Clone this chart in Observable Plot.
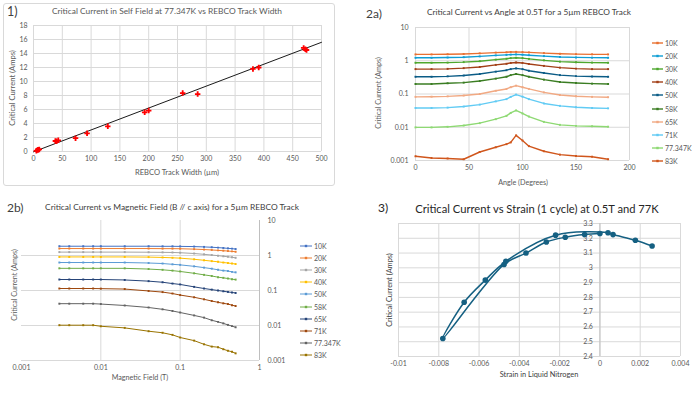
<!DOCTYPE html>
<html><head><meta charset="utf-8">
<script src="https://cdn.jsdelivr.net/npm/d3@7"></script>
<script src="https://cdn.jsdelivr.net/npm/@observablehq/plot@0.6"></script>
<style>
body{margin:0;background:#fff;}
#root{position:relative;width:700px;height:394px;overflow:hidden;background:#fff;font-family:Lato,"Open Sans",sans-serif;}
#root svg{position:absolute;overflow:visible;}
.t{position:absolute;white-space:nowrap;line-height:1;}
</style></head>
<body><div id="root"></div>
<script>
// ---------- Panel 1 data ----------
const p1Width = [5,7,8,10,38,40,43,73,93,129,193,200,259,285,381,391,469,472,474];
const p1Current = [0.1,0.2,0.25,0.3,1.5,1.45,1.6,1.9,2.6,3.6,5.6,5.85,8.35,8.2,11.8,12.0,14.8,14.6,14.5];
const p1TrendX = [0,500];
const p1TrendY = [-0.05,15.6];
const p1XTicks = [0,50,100,150,200,250,300,350,400,450,500];
const p1YTicks = [0,2,4,6,8,10,12,14,16,18];

// ---------- Panel 2a data ----------
const p2aTemps = ["10K","20K","30K","40K","50K","58K","65K","71K","77.347K","83K"];
const p2aColors = ["#E97132","#0F9ED5","#4EA72E","#A23F17","#0B5C86","#3B7D23","#F1A983","#61CBF4","#8ED973","#D0561C"];
const p2aAngles = [0,15,30,45,60,75,85,89,94,100,106,120,135,150,165,180];
const a10K = [1.55,1.55,1.57,1.6,1.67,1.76,1.8,1.84,1.85,1.82,1.78,1.7,1.62,1.58,1.56,1.55];
const a20K = [1.23,1.23,1.25,1.28,1.35,1.45,1.5,1.53,1.55,1.52,1.47,1.38,1.3,1.26,1.24,1.23];
const a30K = [0.87,0.87,0.88,0.91,0.97,1.08,1.15,1.2,1.23,1.2,1.14,1.03,0.94,0.9,0.88,0.87];
const a40K = [0.56,0.56,0.57,0.6,0.65,0.75,0.81,0.86,0.89,0.86,0.8,0.7,0.62,0.58,0.56,0.56];
const a50K = [0.33,0.33,0.34,0.36,0.4,0.47,0.52,0.56,0.59,0.56,0.5,0.43,0.37,0.345,0.335,0.33];
const a58K = [0.2,0.2,0.21,0.22,0.245,0.29,0.33,0.37,0.4,0.37,0.33,0.27,0.23,0.215,0.205,0.2];
const a65K = [0.082,0.083,0.085,0.09,0.1,0.125,0.142,0.16,0.178,0.16,0.142,0.112,0.093,0.086,0.082,0.08];
const a71K = [0.038,0.038,0.039,0.042,0.048,0.06,0.07,0.082,0.096,0.083,0.07,0.052,0.044,0.04,0.038,0.037];
const a77K = [0.0099,0.0099,0.0103,0.0113,0.0133,0.0175,0.022,0.027,0.032,0.026,0.021,0.0145,0.0118,0.011,0.0107,0.0104];
const a83K = [0.00134,0.00119,0.00115,0.00109,0.0018,0.0025,0.0031,0.0035,0.0057,0.004,0.0027,0.0019,0.0015,0.00136,0.0013,0.00109];
const p2aXTicks = [0,50,100,150,200];
const p2aYTicks = [0.001,0.01,0.1,1,10];

// ---------- Panel 2b data ----------
const p2bTemps = ["10K","20K","30K","40K","50K","58K","65K","71K","77.347K","83K"];
const p2bColors = ["#4472C4","#ED7D31","#A5A5A5","#FFC000","#5B9BD5","#70AD47","#264478","#9E480E","#636363","#997300"];
const p2bField = [0.003,0.004,0.006,0.008,0.01,0.02,0.04,0.06,0.08,0.1,0.15,0.2,0.25,0.3,0.35,0.4,0.45,0.5];
const b10K = [1.84,1.84,1.84,1.84,1.84,1.84,1.84,1.83,1.83,1.82,1.8,1.76,1.72,1.68,1.64,1.6,1.57,1.53];
const b20K = [1.58,1.58,1.58,1.58,1.58,1.58,1.58,1.57,1.57,1.56,1.52,1.48,1.44,1.4,1.37,1.34,1.31,1.28];
const b30K = [1.25,1.25,1.25,1.25,1.25,1.25,1.24,1.23,1.22,1.2,1.14,1.08,1.03,0.99,0.95,0.92,0.89,0.86];
const b40K = [0.91,0.91,0.91,0.91,0.91,0.91,0.9,0.88,0.86,0.84,0.78,0.73,0.69,0.66,0.63,0.61,0.59,0.57];
const b50K = [0.63,0.63,0.63,0.63,0.63,0.63,0.61,0.59,0.56,0.54,0.49,0.45,0.42,0.39,0.37,0.36,0.34,0.33];
const b58K = [0.43,0.43,0.43,0.43,0.43,0.43,0.41,0.39,0.37,0.35,0.31,0.28,0.26,0.24,0.23,0.22,0.21,0.205];
const b65K = [0.206,0.206,0.206,0.206,0.206,0.2,0.185,0.172,0.158,0.149,0.127,0.114,0.106,0.1,0.095,0.091,0.088,0.085];
const b71K = [0.114,0.114,0.114,0.114,0.113,0.11,0.097,0.09,0.082,0.074,0.064,0.056,0.05,0.046,0.043,0.041,0.038,0.036];
const b77K = [0.042,0.042,0.042,0.042,0.041,0.0373,0.0327,0.029,0.026,0.0235,0.0194,0.0168,0.0141,0.0127,0.0115,0.0104,0.0096,0.0089];
const b83K = [0.0102,0.0102,0.0102,0.0102,0.0095,0.00855,0.00687,0.0062,0.0054,0.00454,0.0037,0.0029,0.0025,0.0024,0.0021,0.0019,0.00178,0.0016];
const p2bXTicks = [0.001,0.01,0.1,1];
const p2bYTicks = [0.001,0.01,0.1,1,10];

// ---------- Panel 3 data ----------
const p3Strain = [0,-0.00076,-0.00172,-0.00266,-0.00367,-0.00476,-0.0078,-0.00674,-0.00569,-0.00467,-0.0022,0.0004,0.00065,0.00176,0.00259];
const p3Current = [3.232,3.225,3.207,3.175,3.10,3.023,2.522,2.767,2.917,3.044,3.221,3.237,3.225,3.187,3.148];
const p3XTicks = [-0.01,-0.008,-0.006,-0.004,-0.002,0,0.002,0.004];
const p3YTicks = [2.4,2.5,2.6,2.7,2.8,2.9,3,3.1,3.2,3.3];

// ---------- helpers ----------
const root = document.getElementById("root");
const FONT = 'Lato,"Open Sans",sans-serif';
const GRID = "#d9d9d9";
const TICK = "#595959";
function place(svg, left, top){ svg.style.left = left+"px"; svg.style.top = top+"px"; root.appendChild(svg); }
function txt(s, x, y, size, color, o={}){
  const d = document.createElement("div");
  d.className = "t"; d.textContent = s;
  const tx = o.anchor === "start" ? "0" : "-50%";
  d.style.left = x+"px"; d.style.top = y+"px"; d.style.fontSize = size+"px"; d.style.color = color;
  d.style.transform = `translate(${tx},-50%)` + (o.rotate ? " rotate(-90deg)" : "");
  root.appendChild(d);
}
function legend(temps, colors, x0, y0, dy, lineW, opts){
  temps.forEach((t,i)=>{
    const y = y0 + i*dy;
    const s = d3.create("svg").attr("width", lineW).attr("height", 6)
      .style("left", x0+"px").style("top", (y-3)+"px");
    s.append("line").attr("x1",0).attr("x2",lineW).attr("y1",3).attr("y2",3)
      .attr("stroke", colors[i]).attr("stroke-width", opts.sw);
    s.append("rect").attr("x", lineW/2-1.2).attr("y", 1.8).attr("width", 2.4).attr("height", 2.4).attr("fill", colors[i]);
    root.appendChild(s.node());
    txt(t, x0+lineW+2, y, opts.size, TICK, {anchor:"start"});
  });
}
const baseStyle = {fontFamily: FONT, fontSize: "7px", color: TICK, background: "transparent", overflow: "visible"};

// ---------- Panel 1 ----------
{
  const box = document.createElement("div");
  box.style.cssText = "position:absolute;left:3px;top:3px;width:330px;height:181px;border:1px solid #d9d9d9;border-radius:3px;";
  root.appendChild(box);
  const pts = p1Width.map((w,i)=>({w, c:p1Current[i]}));
  const trend = p1TrendX.map((x,i)=>({x, y:p1TrendY[i]}));
  const svg = Plot.plot({
    width:340, height:180, marginLeft:33, marginRight:19, marginTop:25, marginBottom:29,
    style: baseStyle,
    x:{domain:[0,500], axis:null}, y:{domain:[0,18], axis:null},
    marks:[
      Plot.gridX(p1XTicks,{stroke:GRID, strokeOpacity:1}),
      Plot.gridY(p1YTicks,{stroke:GRID, strokeOpacity:1}),
      Plot.axisX(p1XTicks,{tickSize:0, tickPadding:5, label:null, fill:TICK}),
      Plot.axisY(p1YTicks,{tickSize:0, tickPadding:6, label:null, fill:TICK}),
      Plot.line(trend,{x:"x", y:"y", stroke:"#1a1a1a", strokeWidth:1}),
      Plot.dot(pts,{x:"w", y:"c", symbol:"cross", fill:"#ff0000", r:2.3})
    ]
  });
  place(svg, 0, 0);
  txt("Critical Current in Self Field at 77.347K vs REBCO Track Width", 167, 11, 8.4, "#595959");
  txt("1)", 7, 12, 12.5, "#404040", {anchor:"start"});
  txt("REBCO Track Width (\u00b5m)", 177, 173, 7.6, "#595959");
  txt("Critical Current (Amps)", 13, 88, 7.6, "#595959", {rotate:true});
}

// ---------- Panel 2a ----------
{
  const series = [a10K,a20K,a30K,a40K,a50K,a58K,a65K,a71K,a77K,a83K];
  const rows = series.flatMap((arr,k)=>arr.map((v,i)=>({temp:p2aTemps[k], angle:p2aAngles[i], v})));
  const svg = Plot.plot({
    width:300, height:180, marginLeft:75, marginRight:11, marginTop:27, marginBottom:20,
    style: baseStyle,
    x:{domain:[0,200], axis:null}, y:{type:"log", domain:[0.001,10], axis:null},
    color:{domain:p2aTemps, range:p2aColors},
    marks:[
      Plot.gridX(p2aXTicks,{stroke:GRID, strokeOpacity:1}),
      Plot.gridY(p2aYTicks,{stroke:GRID, strokeOpacity:1}),
      Plot.axisX(p2aXTicks,{tickSize:0, tickPadding:5, label:null, fill:TICK}),
      Plot.axisY(p2aYTicks,{tickSize:0, tickPadding:7, label:null, fill:TICK, tickFormat:d=>String(d)}),
      Plot.line(rows,{x:"angle", y:"v", z:"temp", stroke:"temp", strokeWidth:1.4}),
      Plot.dot(rows,{x:"angle", y:"v", fill:"temp", symbol:"square", r:1.1})
    ]
  });
  place(svg, 340, 0);
  txt("Critical Current vs Angle at 0.5T for a 5\u00b5m REBCO Track", 529, 12, 8.3, "#404040");
  txt("2a)", 366, 14, 12, "#404040", {anchor:"start"});
  txt("Angle (Degrees)", 523, 183, 7.2, "#595959");
  txt("Critical Current (Amps)", 379, 93, 7.2, "#595959", {rotate:true});
  legend(p2aTemps, p2aColors, 652, 43, 13.1, 11, {sw:1.4, size:7});
}

// ---------- Panel 2b ----------
{
  const series = [b10K,b20K,b30K,b40K,b50K,b58K,b65K,b71K,b77K,b83K];
  const rows = series.flatMap((arr,k)=>arr.map((v,i)=>({temp:p2bTemps[k], B:p2bField[i], v})));
  const svg = Plot.plot({
    width:300, height:195, marginLeft:21, marginRight:41, marginTop:25, marginBottom:30,
    style: baseStyle,
    x:{type:"log", domain:[0.001,1], axis:null}, y:{type:"log", domain:[0.001,10], axis:null},
    color:{domain:p2bTemps, range:p2bColors},
    marks:[
      Plot.gridX(p2bXTicks.slice(1,3),{stroke:GRID, strokeOpacity:1}),
      Plot.gridY(p2bYTicks.slice(1,4),{stroke:GRID, strokeOpacity:1}),
      Plot.ruleY([p2bYTicks[0]],{stroke:GRID}),
      Plot.ruleX([p2bXTicks[3]],{stroke:"#bfbfbf"}),
      Plot.axisX(p2bXTicks,{tickSize:0, tickPadding:5, label:null, fill:TICK, tickFormat:d=>String(d)}),
      Plot.axisY(p2bYTicks,{anchor:"right", tickSize:0, tickPadding:8, label:null, fill:TICK, tickFormat:d=>String(d)}),
      Plot.line(rows,{x:"B", y:"v", z:"temp", stroke:"temp", strokeWidth:1}),
      Plot.dot(rows,{x:"B", y:"v", fill:"temp", symbol:"square", r:1.1})
    ]
  });
  place(svg, 0, 195);
  txt("Critical Current vs Magnetic Field (B // c axis) for a 5\u00b5m REBCO Track", 172, 207, 8.4, "#404040");
  txt("2b)", 7, 208, 12, "#404040", {anchor:"start"});
  txt("Magnetic Field (T)", 140, 378, 7.2, "#595959");
  txt("Critical Current (Amps)", 15, 285, 7.2, "#595959", {rotate:true});
  legend(p2bTemps, p2bColors, 300, 246, 12.1, 12, {sw:1, size:7});
}

// ---------- Panel 3 ----------
{
  const pts = p3Strain.map((s,i)=>({s, c:p3Current[i]}));
  const svg = Plot.plot({
    width:360, height:195, marginLeft:58, marginRight:20, marginTop:28, marginBottom:34,
    style: baseStyle,
    x:{domain:[-0.01,0.004], axis:null}, y:{domain:[2.4,3.3], axis:null},
    marks:[
      Plot.gridX(p3XTicks,{stroke:GRID, strokeOpacity:1}),
      Plot.gridY(p3YTicks,{stroke:GRID, strokeOpacity:1}),
      Plot.ruleX([0],{stroke:"#bfbfbf"}),
      Plot.axisX(p3XTicks,{tickSize:0, tickPadding:5, label:null, fill:TICK, tickFormat:d=>String(d)}),
      Plot.text(p3YTicks,{x:()=>0, y:d=>d, text:d=>String(d), textAnchor:"end", dx:-7, fill:TICK}),
      Plot.line(pts,{x:"s", y:"c", stroke:"#156082", strokeWidth:1.5, curve:"catmull-rom"}),
      Plot.dot(pts,{x:"s", y:"c", fill:"#156082", r:2.8})
    ]
  });
  place(svg, 340, 195);
  txt("Critical Current vs Strain (1 cycle) at 0.5T and 77K", 537, 209, 11.2, "#262626");
  txt("3)", 378, 208, 12, "#262626", {anchor:"start"});
  txt("Strain in Liquid Nitrogen", 539, 375, 7.4, "#404040");
  txt("Critical Current (Amps)", 390, 290, 7.4, "#404040", {rotate:true});
}
</script>
</body></html>
